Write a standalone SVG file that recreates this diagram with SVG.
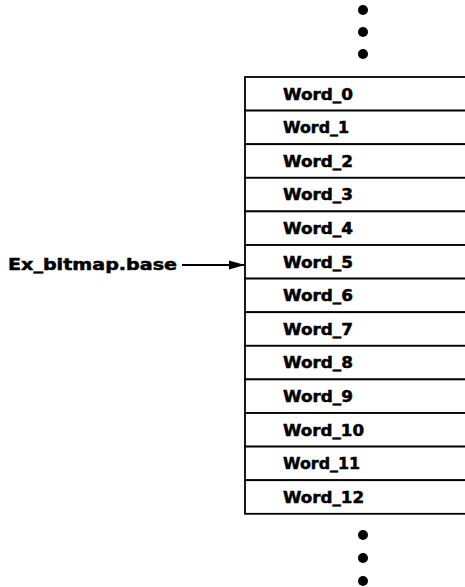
<svg xmlns="http://www.w3.org/2000/svg" width="465" height="587" viewBox="0 0 465 587">
  <style>
    .cell { fill: #fff; stroke: #000; stroke-width: 1.8; }
    .lbl { font-family: "DejaVu Sans", "Liberation Sans", sans-serif; font-weight: bold; font-size: 16px; fill: #000; stroke: #000; stroke-width: 0.5; }
    .dot { fill: #000; }
    .conn { stroke: #000; stroke-width: 2; fill: none; }
  </style>
  <defs>
    <marker id="arrow" markerWidth="16" markerHeight="10" refX="16" refY="5" orient="auto" markerUnits="userSpaceOnUse">
      <path d="M0,0.5 L16,5 L0,9.5 Z" fill="#000"/>
    </marker>
  </defs>

  <!-- continuation dots above -->
  <g id="dots-top">
    <circle class="dot" cx="363" cy="10" r="5"/>
    <circle class="dot" cx="363" cy="32" r="5"/>
    <circle class="dot" cx="363" cy="54" r="5"/>
  </g>

  <!-- memory words, each cell 33.6 high; right side runs off the page -->
  <g id="word0"><rect class="cell" x="245" y="77" width="240" height="33.6"/><text class="lbl" x="283" y="99.5" textLength="70" lengthAdjust="spacingAndGlyphs">Word_0</text></g>
  <g id="word1"><rect class="cell" x="245" y="110.6" width="240" height="33.6"/><text class="lbl" x="283" y="133.1" textLength="66" lengthAdjust="spacingAndGlyphs">Word_1</text></g>
  <g id="word2"><rect class="cell" x="245" y="144.2" width="240" height="33.6"/><text class="lbl" x="283" y="166.7" textLength="70" lengthAdjust="spacingAndGlyphs">Word_2</text></g>
  <g id="word3"><rect class="cell" x="245" y="177.8" width="240" height="33.6"/><text class="lbl" x="283" y="200.3" textLength="70" lengthAdjust="spacingAndGlyphs">Word_3</text></g>
  <g id="word4"><rect class="cell" x="245" y="211.4" width="240" height="33.6"/><text class="lbl" x="283" y="233.9" textLength="70" lengthAdjust="spacingAndGlyphs">Word_4</text></g>
  <g id="word5"><rect class="cell" x="245" y="245" width="240" height="33.6"/><text class="lbl" x="283" y="267.5" textLength="70" lengthAdjust="spacingAndGlyphs">Word_5</text></g>
  <g id="word6"><rect class="cell" x="245" y="278.6" width="240" height="33.6"/><text class="lbl" x="283" y="301.1" textLength="70" lengthAdjust="spacingAndGlyphs">Word_6</text></g>
  <g id="word7"><rect class="cell" x="245" y="312.2" width="240" height="33.6"/><text class="lbl" x="283" y="334.7" textLength="70" lengthAdjust="spacingAndGlyphs">Word_7</text></g>
  <g id="word8"><rect class="cell" x="245" y="345.8" width="240" height="33.6"/><text class="lbl" x="283" y="368.3" textLength="70" lengthAdjust="spacingAndGlyphs">Word_8</text></g>
  <g id="word9"><rect class="cell" x="245" y="379.4" width="240" height="33.6"/><text class="lbl" x="283" y="401.9" textLength="70" lengthAdjust="spacingAndGlyphs">Word_9</text></g>
  <g id="word10"><rect class="cell" x="245" y="413" width="240" height="33.6"/><text class="lbl" x="283" y="435.5" textLength="81" lengthAdjust="spacingAndGlyphs">Word_10</text></g>
  <g id="word11"><rect class="cell" x="245" y="446.6" width="240" height="33.6"/><text class="lbl" x="283" y="469.1" textLength="77" lengthAdjust="spacingAndGlyphs">Word_11</text></g>
  <g id="word12"><rect class="cell" x="245" y="480.2" width="240" height="33.6"/><text class="lbl" x="283" y="502.7" textLength="81" lengthAdjust="spacingAndGlyphs">Word_12</text></g>

  <!-- continuation dots below -->
  <g id="dots-bottom">
    <circle class="dot" cx="363" cy="535" r="5"/>
    <circle class="dot" cx="363" cy="558" r="5"/>
    <circle class="dot" cx="363" cy="581" r="5"/>
  </g>

  <!-- pointer label -->
  <g id="base-label">
    <text class="lbl" x="8" y="270" textLength="169" lengthAdjust="spacingAndGlyphs">Ex_bitmap.base</text>
  </g>

  <g id="connectors">
    <line class="conn" x1="182" y1="265" x2="245" y2="265" marker-end="url(#arrow)"/>
  </g>
</svg>
